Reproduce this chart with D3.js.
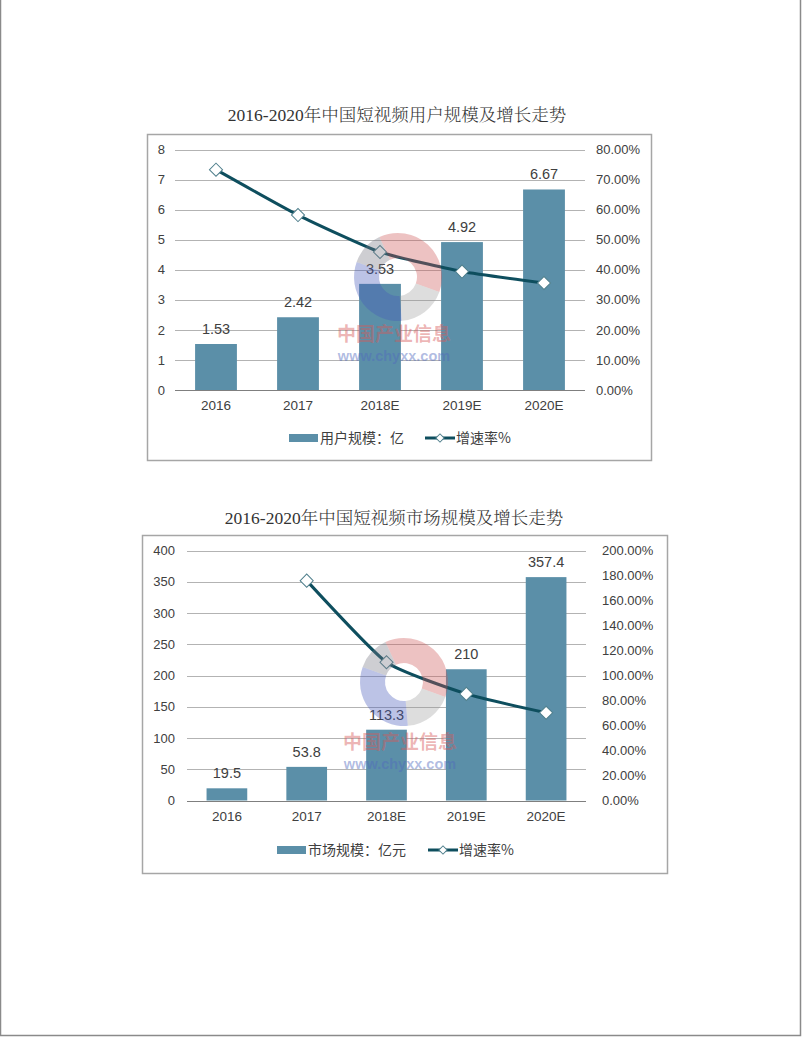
<!DOCTYPE html>
<html>
<head>
<meta charset="utf-8">
<script src="https://cdn.jsdelivr.net/npm/d3@7"></script>
<style>
  html, body { margin: 0; padding: 0; background: #fff; }
  svg { display: block; }
</style>
</head>
<body>
<svg id="chart" width="802" height="1037"></svg>
<script>
// ---------------- DATA ----------------
const categories = ["2016", "2017", "2018E", "2019E", "2020E"];

const userTitle = "2016-2020年中国短视频用户规模及增长走势";
const userScale = [1.53, 2.42, 3.53, 4.92, 6.67];          // 用户规模：亿
const userGrowth = [73.3, 58.2, 45.9, 39.4, 35.6];         // 增速率%
const userLeftTicks = [0, 1, 2, 3, 4, 5, 6, 7, 8];
const userRightTicks = [0, 10, 20, 30, 40, 50, 60, 70, 80];
const userBarLegend = "用户规模：亿";

const marketTitle = "2016-2020年中国短视频市场规模及增长走势";
const marketScale = [19.5, 53.8, 113.3, 210, 357.4];       // 市场规模：亿元
const marketGrowth = [null, 175.9, 110.6, 85.3, 70.2];     // 增速率%
const marketLeftTicks = [0, 50, 100, 150, 200, 250, 300, 350, 400];
const marketRightTicks = [0, 20, 40, 60, 80, 100, 120, 140, 160, 180, 200];
const marketBarLegend = "市场规模：亿元";

const lineLegend = "增速率%";

// ---------------- STYLE ----------------
const BAR = "#5b8fa8";
const LINE = "#0e4e5e";
const GRID = "#b3b3b3";
const TXT = "#404040";
const SANS = "'Liberation Sans', Arial, 'Noto Sans CJK SC', sans-serif";
const CJK = "'Noto Sans CJK SC', 'Liberation Sans', sans-serif";
const SERIF = "'Liberation Serif', 'Noto Serif CJK SC', 'Noto Sans CJK SC', serif";

const svg = d3.select("#chart");

// page frame
svg.append("path")
  .attr("d", "M0.5,0 V1035.5 H800.5 V0")
  .attr("fill", "none").attr("stroke", "#8a8a8a").attr("stroke-width", 1.5);

function drawChart(cfg) {
  const g = svg.append("g");

  // title
  g.append("text")
    .attr("x", cfg.titleX).attr("y", cfg.titleY)
    .attr("text-anchor", "middle")
    .attr("font-family", SERIF).attr("font-size", cfg.titleSize)
    .attr("font-weight", 300)
    .attr("fill", "#333")
    .text(cfg.title);

  // box
  g.append("rect")
    .attr("x", cfg.box.x + 0.5).attr("y", cfg.box.y + 0.5)
    .attr("width", cfg.box.w).attr("height", cfg.box.h)
    .attr("fill", "none").attr("stroke", "#a6a6a6").attr("stroke-width", 1.5);

  const x = d3.scaleBand().domain(categories).range([cfg.px0, cfg.px1]).paddingInner(0.49).paddingOuter(0.245);
  const xc = d => x(d) + x.bandwidth() / 2;
  const yL = d3.scaleLinear().domain([0, cfg.leftTicks[cfg.leftTicks.length - 1]]).range([cfg.py1, cfg.py0]);
  const yR = d3.scaleLinear().domain([0, cfg.rightTicks[cfg.rightTicks.length - 1]]).range([cfg.py1, cfg.py0]);

  // gridlines
  g.append("g").selectAll("line").data(cfg.leftTicks.slice(1)).join("line")
    .attr("x1", cfg.px0).attr("x2", cfg.px1)
    .attr("y1", d => Math.round(yL(d)) + 0.5).attr("y2", d => Math.round(yL(d)) + 0.5)
    .attr("stroke", GRID).attr("stroke-width", 1);

  // left axis
  const axL = d3.axisLeft(yL).tickValues(cfg.leftTicks).tickSize(0).tickPadding(0);
  const gL = g.append("g").attr("transform", `translate(${cfg.leftLabelX},0)`).call(axL);
  gL.select(".domain").remove();
  gL.selectAll("text").attr("font-family", SANS).attr("font-size", 13).attr("fill", TXT);

  // right axis
  const axR = d3.axisRight(yR).tickValues(cfg.rightTicks).tickSize(0).tickPadding(0)
    .tickFormat(d => d.toFixed(2) + "%");
  const gR = g.append("g").attr("transform", `translate(${cfg.rightLabelX},0)`).call(axR);
  gR.select(".domain").remove();
  gR.selectAll("text").attr("font-family", SANS).attr("font-size", 13).attr("fill", TXT);

  // bars
  g.append("g").selectAll("rect").data(cfg.bars).join("rect")
    .attr("x", (d, i) => x(categories[i]))
    .attr("width", x.bandwidth())
    .attr("y", d => yL(d))
    .attr("height", d => yL(0) - yL(d))
    .attr("fill", BAR);

  // x axis line
  g.append("line")
    .attr("x1", cfg.px0).attr("x2", cfg.px1)
    .attr("y1", Math.round(yL(0)) + 0.5).attr("y2", Math.round(yL(0)) + 0.5)
    .attr("stroke", "#7f7f7f").attr("stroke-width", 1.2);

  // x labels
  const axB = d3.axisBottom(x).tickSize(0).tickPadding(0);
  const gB = g.append("g").attr("transform", `translate(0,${cfg.xLabelY})`).call(axB);
  gB.select(".domain").remove();
  gB.selectAll("text").attr("font-family", SANS).attr("font-size", 13.5).attr("fill", TXT).attr("dy", "0.32em");

  // bar value labels
  g.append("g").selectAll("text").data(cfg.bars).join("text")
    .attr("x", (d, i) => xc(categories[i]))
    .attr("y", d => yL(d) - 10)
    .attr("text-anchor", "middle")
    .attr("font-family", SANS).attr("font-size", 14.5).attr("fill", TXT)
    .text(d => d);

  // growth line
  const pts = cfg.growth.map((v, i) => ({ c: categories[i], v })).filter(d => d.v !== null);
  const line = d3.line().x(d => xc(d.c)).y(d => yR(d.v)).curve(d3.curveCardinal.tension(0.5));
  g.append("path").datum(pts)
    .attr("d", line)
    .attr("fill", "none").attr("stroke", LINE).attr("stroke-width", 3).attr("stroke-linejoin", "round");

  const diamond = d3.symbol().type(d3.symbolSquare).size(86);
  g.append("g").selectAll("path").data(pts).join("path")
    .attr("d", diamond)
    .attr("transform", d => `translate(${xc(d.c)},${yR(d.v)}) rotate(45)`)
    .attr("fill", "#fff").attr("stroke", "#4f7f8c").attr("stroke-width", 1);

  // legend
  const lg = g.append("g");
  lg.append("rect").attr("x", cfg.legRectX).attr("y", cfg.legY - 4).attr("width", 29).attr("height", 8).attr("fill", BAR);
  lg.append("text").attr("x", cfg.legRectX + 31).attr("y", cfg.legY).attr("dy", "0.36em")
    .attr("font-family", CJK).attr("font-size", 14).attr("fill", TXT).text(cfg.barLegend);
  lg.append("line").attr("x1", cfg.legLineX).attr("x2", cfg.legLineX + 30)
    .attr("y1", cfg.legY).attr("y2", cfg.legY).attr("stroke", LINE).attr("stroke-width", 3);
  lg.append("path").attr("d", d3.symbol().type(d3.symbolSquare).size(34))
    .attr("transform", `translate(${cfg.legLineX + 15},${cfg.legY}) rotate(45)`)
    .attr("fill", "#fff").attr("stroke", "#4f7f8c").attr("stroke-width", 1);
  lg.append("text").attr("x", cfg.legLineX + 31).attr("y", cfg.legY).attr("dy", "0.36em")
    .attr("font-family", CJK).attr("font-size", 14).attr("fill", TXT).text(lineLegend);

  // watermark
  const wm = g.append("g").attr("transform", `translate(${cfg.wmX},${cfg.wmY})`);
  const arc = d3.arc().innerRadius(19).outerRadius(44);
  const deg = Math.PI / 180;
  const segs = [
    { a0: -25, a1: 110, c: "rgba(205,85,85,0.36)" },
    { a0: 110, a1: 175, c: "rgba(150,150,150,0.32)" },
    { a0: 175, a1: 290, c: "rgba(70,90,185,0.36)" },
    { a0: 290, a1: 335, c: "rgba(120,120,130,0.36)" }
  ];
  wm.selectAll("path").data(segs).join("path")
    .attr("d", d => arc({ startAngle: d.a0 * deg, endAngle: d.a1 * deg }))
    .attr("fill", d => d.c);
  wm.append("text").attr("x", -4).attr("y", cfg.wmT1).attr("text-anchor", "middle")
    .attr("font-family", CJK).attr("font-weight", "bold").attr("font-size", 19)
    .attr("fill", "rgba(215,90,90,0.45)").text("中国产业信息");
  wm.append("text").attr("x", -4).attr("y", cfg.wmT2).attr("text-anchor", "middle")
    .attr("font-family", SANS).attr("font-weight", "bold").attr("font-size", 14.5)
    .attr("fill", "rgba(80,105,190,0.45)").text("www.chyxx.com");
}

drawChart({
  title: userTitle, titleX: 397, titleY: 121, titleSize: 17.5,
  box: { x: 147, y: 134, w: 504, h: 326 },
  px0: 175, px1: 585, py0: 149.5, py1: 390,
  leftTicks: userLeftTicks, rightTicks: userRightTicks,
  leftLabelX: 165, rightLabelX: 596, xLabelY: 406,
  bars: userScale, growth: userGrowth,
  legY: 438, legRectX: 289, legLineX: 425, barLegend: userBarLegend,
  wmX: 398, wmY: 277, wmT1: 64, wmT2: 84
});

drawChart({
  title: marketTitle, titleX: 394, titleY: 524, titleSize: 17.5,
  box: { x: 142, y: 535, w: 525, h: 338 },
  px0: 187, px1: 586, py0: 550.5, py1: 800.5,
  leftTicks: marketLeftTicks, rightTicks: marketRightTicks,
  leftLabelX: 175, rightLabelX: 602, xLabelY: 817,
  bars: marketScale, growth: marketGrowth,
  legY: 850, legRectX: 277, legLineX: 428, barLegend: marketBarLegend,
  wmX: 404, wmY: 682, wmT1: 67, wmT2: 87
});
</script>
</body>
</html>
